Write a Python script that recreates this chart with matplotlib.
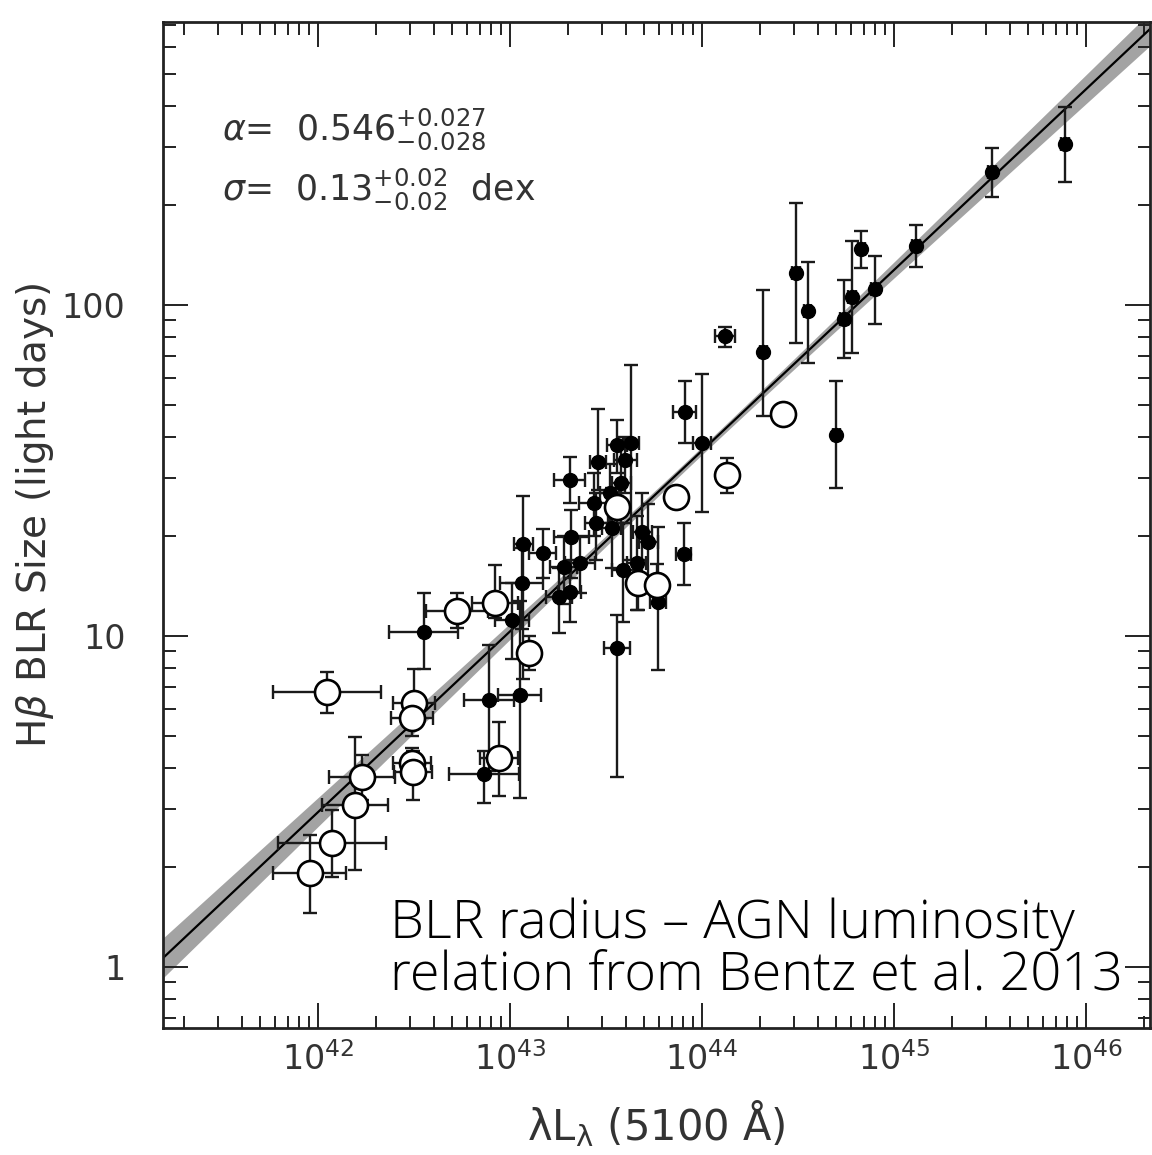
import numpy as np
import matplotlib
matplotlib.use('Agg')
import matplotlib.pyplot as plt
from matplotlib.ticker import LogLocator, FixedLocator, FixedFormatter, NullFormatter

# --- fit parameters (shown in the panel) ---
fit_K = 1.560
fit_alpha = 0.546

# --- filled points: log L5100, R (lt-days), lower and upper R of the error bar, x error (dex) ---
fill_logL = [45.89, 45.51, 45.115, 44.90, 44.83, 44.78, 44.74, 44.55, 44.49, 44.32,
             44.12, 44.70, 43.91, 44.00, 43.905, 43.63, 43.557, 43.458, 43.60, 43.31,
             43.58, 43.52, 43.44, 43.45, 43.53, 43.69, 43.72, 43.32, 43.07, 43.17,
             43.365, 43.28, 43.59, 43.66, 43.77, 43.06, 43.255, 43.31, 43.01, 42.55,
             43.557, 42.89, 43.05, 42.865]
fill_R = [306, 252, 151, 112, 148, 106, 90.7, 95.9, 125, 72.1,
          80.6, 40.5, 47.5, 38.3, 17.7, 38.3, 37.8, 33.5, 34.0, 29.6,
          29.0, 27.0, 25.2, 21.9, 21.2, 20.6, 19.2, 19.9, 19.0, 17.8,
          16.6, 16.2, 15.8, 16.6, 12.7, 14.5, 13.1, 13.6, 11.2, 10.3,
          9.2, 6.41, 6.63, 3.83]
fill_Rlo = [235, 212, 130, 87.6, 129, 71.6, 69.2, 66.8, 76.8, 46.2,
            74.7, 28.0, 38.3, 23.7, 14.3, 17.0, 31.0, 27.6, 27.0, 25.2,
            22.0, 22.0, 20.0, 17.0, 16.0, 15.0, 14.0, 15.0, 7.4, 15.0,
            13.5, 12.5, 11.0, 12.0, 7.9, 10.5, 10.2, 11.0, 8.5, 7.95,
            3.75, 3.9, 3.24, 3.13]
fill_Rhi = [396, 298, 175, 141, 167, 156, 119, 135, 203, 111,
            85.8, 58.9, 58.9, 61.9, 21.9, 66.0, 45.0, 48.5, 40.0, 34.7,
            37.0, 33.0, 31.0, 27.0, 28.0, 27.0, 25.0, 24.0, 26.5, 21.0,
            20.0, 20.0, 22.0, 23.0, 21.3, 18.5, 16.0, 17.0, 14.5, 13.5,
            11.6, 9.4, 12.8, 4.5]
fill_xerr = [0.02, 0.02, 0.02, 0.02, 0.02, 0.02, 0.02, 0.02, 0.02, 0.02,
             0.05, 0.02, 0.06, 0.045, 0.04, 0.04, 0.05, 0.04, 0.06, 0.08,
             0.05, 0.05, 0.08, 0.06, 0.05, 0.05, 0.05, 0.09, 0.05, 0.07,
             0.08, 0.07, 0.06, 0.05, 0.04, 0.11, 0.07, 0.06, 0.09, 0.18,
             0.07, 0.13, 0.11, 0.18]

# --- open points ---
open_logL = [41.958, 42.073, 42.193, 42.229, 42.047, 42.50, 42.49, 42.49, 42.495, 42.724,
             42.922, 43.099, 42.943, 43.557, 43.667, 43.766, 43.865, 44.130, 44.422]
open_R = [1.92, 2.37, 3.09, 3.75, 6.77, 6.28, 5.65, 4.13, 3.88, 11.9,
          12.6, 8.89, 4.28, 24.5, 14.5, 14.3, 26.3, 30.6, 46.9]
open_Rlo = [1.46, 1.87, 1.96, 3.20, 5.85, 5.6, 5.0, 3.7, 3.2, 10.6,
            11.3, 7.9, 3.29, 22.0, 12.0, 12.5, 25.0, 27.0, 45.0]
open_Rhi = [2.51, 2.98, 4.95, 4.37, 7.78, 7.94, 6.4, 4.6, 4.5, 13.5,
            16.4, 10.0, 5.50, 27.0, 17.0, 16.5, 27.5, 34.5, 49.0]
open_xerr = [0.19, 0.28, 0.17, 0.17, 0.28, 0.11, 0.11, 0.10, 0.10, 0.16,
             0.12, 0.05, 0.10, 0.03, 0.03, 0.03, 0.02, 0.02, 0.02]

xtick_pos = [1e42, 1e43, 1e44, 1e45, 1e46]
xtick_lab = [r'$10^{42}$', r'$10^{43}$', r'$10^{44}$', r'$10^{45}$', r'$10^{46}$']
ytick_pos = [1, 10, 100]
ytick_lab = ['1', '10', '100']


def to_xy(logL, R, Rlo, Rhi, xerr):
    logL = np.array(logL)
    R = np.array(R)
    x = 10 ** logL
    xl = x - 10 ** (logL - np.array(xerr))
    xh = 10 ** (logL + np.array(xerr)) - x
    yl = R - np.array(Rlo)
    yh = np.array(Rhi) - R
    return x, R, [xl, xh], [yl, yh]


fig = plt.figure(figsize=(11.52, 11.55), dpi=100)
ax = fig.add_axes([163 / 1152, 1 - 1028 / 1155, 987 / 1152, 1006 / 1155])
ax.set_xscale('log')
ax.set_yscale('log')
ax.set_xlim(10 ** 41.193, 10 ** 46.333)
ax.set_ylim(10 ** -0.184, 10 ** 2.855)

# fit line and its uncertainty band
lx = np.linspace(41.0, 46.5, 200)
ly = fit_K + fit_alpha * (lx - 44.0)
hw = np.sqrt(0.012 ** 2 + (0.021 * (lx - 44.0)) ** 2)
ax.fill_between(10 ** lx, 10 ** (ly - hw), 10 ** (ly + hw), color='#a3a3a3', lw=0, zorder=1)
ax.plot(10 ** lx, 10 ** ly, color='black', lw=1.6, zorder=2)

ekw = dict(fmt='none', ecolor='#1a1a1a', elinewidth=1.7, capsize=5, capthick=1.7, zorder=3)

x, y, xe, ye = to_xy(open_logL, open_R, open_Rlo, open_Rhi, open_xerr)
ax.errorbar(x, y, xerr=xe, yerr=ye, **ekw)
x2, y2, xe2, ye2 = to_xy(fill_logL, fill_R, fill_Rlo, fill_Rhi, fill_xerr)
ax.errorbar(x2, y2, xerr=xe2, yerr=ye2, **ekw)

ax.plot(x2, y2, 'o', color='black', ms=10, mec='black', zorder=4)
ax.plot(x, y, 'o', mfc='white', mec='black', ms=18, mew=1.9, zorder=5)

# ticks
ax.xaxis.set_major_locator(FixedLocator(xtick_pos))
ax.xaxis.set_major_formatter(FixedFormatter(xtick_lab))
ax.xaxis.set_minor_locator(LogLocator(base=10, subs=np.arange(2, 10), numticks=20))
ax.xaxis.set_minor_formatter(NullFormatter())
ax.yaxis.set_major_locator(FixedLocator(ytick_pos))
ax.yaxis.set_major_formatter(FixedFormatter(ytick_lab))
ax.yaxis.set_minor_locator(LogLocator(base=10, subs=np.arange(2, 10), numticks=20))
ax.yaxis.set_minor_formatter(NullFormatter())
ax.tick_params(which='both', direction='in', top=True, right=True, width=1.4, color='#222222')
ax.tick_params(which='major', length=18, labelsize=24, labelcolor='#333333')
ax.tick_params(axis='x', which='major', pad=10)
ax.tick_params(axis='y', which='major', pad=27)
ax.tick_params(which='minor', length=9)
for s in ax.spines.values():
    s.set_linewidth(2.0)
    s.set_color('#222222')

ax.set_xlabel(r'λL$_\mathregular{λ}$ (5100 Å)', fontsize=30, color='#333333')
ax.xaxis.set_label_coords(0.5, (1028 - 1124) / 1006, transform=ax.transAxes)
ax.xaxis.label.set_verticalalignment('center')
ax.set_ylabel(r'H$\beta$ BLR Size (light days)', fontsize=28, color='#333333')
ax.yaxis.set_label_coords((35 - 163) / 987, 0.51)
ax.yaxis.label.set_verticalalignment('center')

ax.text(0.06, 0.893, r'$\alpha$=  0.546$^{+0.027}_{-0.028}$', transform=ax.transAxes,
        fontsize=25, color='#333333', va='center')
ax.text(0.06, 0.834, r'$\sigma$=  0.13$^{+0.02}_{-0.02}$  dex', transform=ax.transAxes,
        fontsize=25, color='#333333', va='center')

ax.text((390 - 163) / 987, (1028 - 990) / 1006, 'BLR radius – AGN luminosity\nrelation from Bentz et al. 2013',
        transform=ax.transAxes, fontsize=39, fontweight=300, linespacing=0.97,
        family=['Open Sans', 'DejaVu Sans'],
        color='black', va='baseline', ha='left', zorder=6)

fig.savefig('out.png', dpi=100)
